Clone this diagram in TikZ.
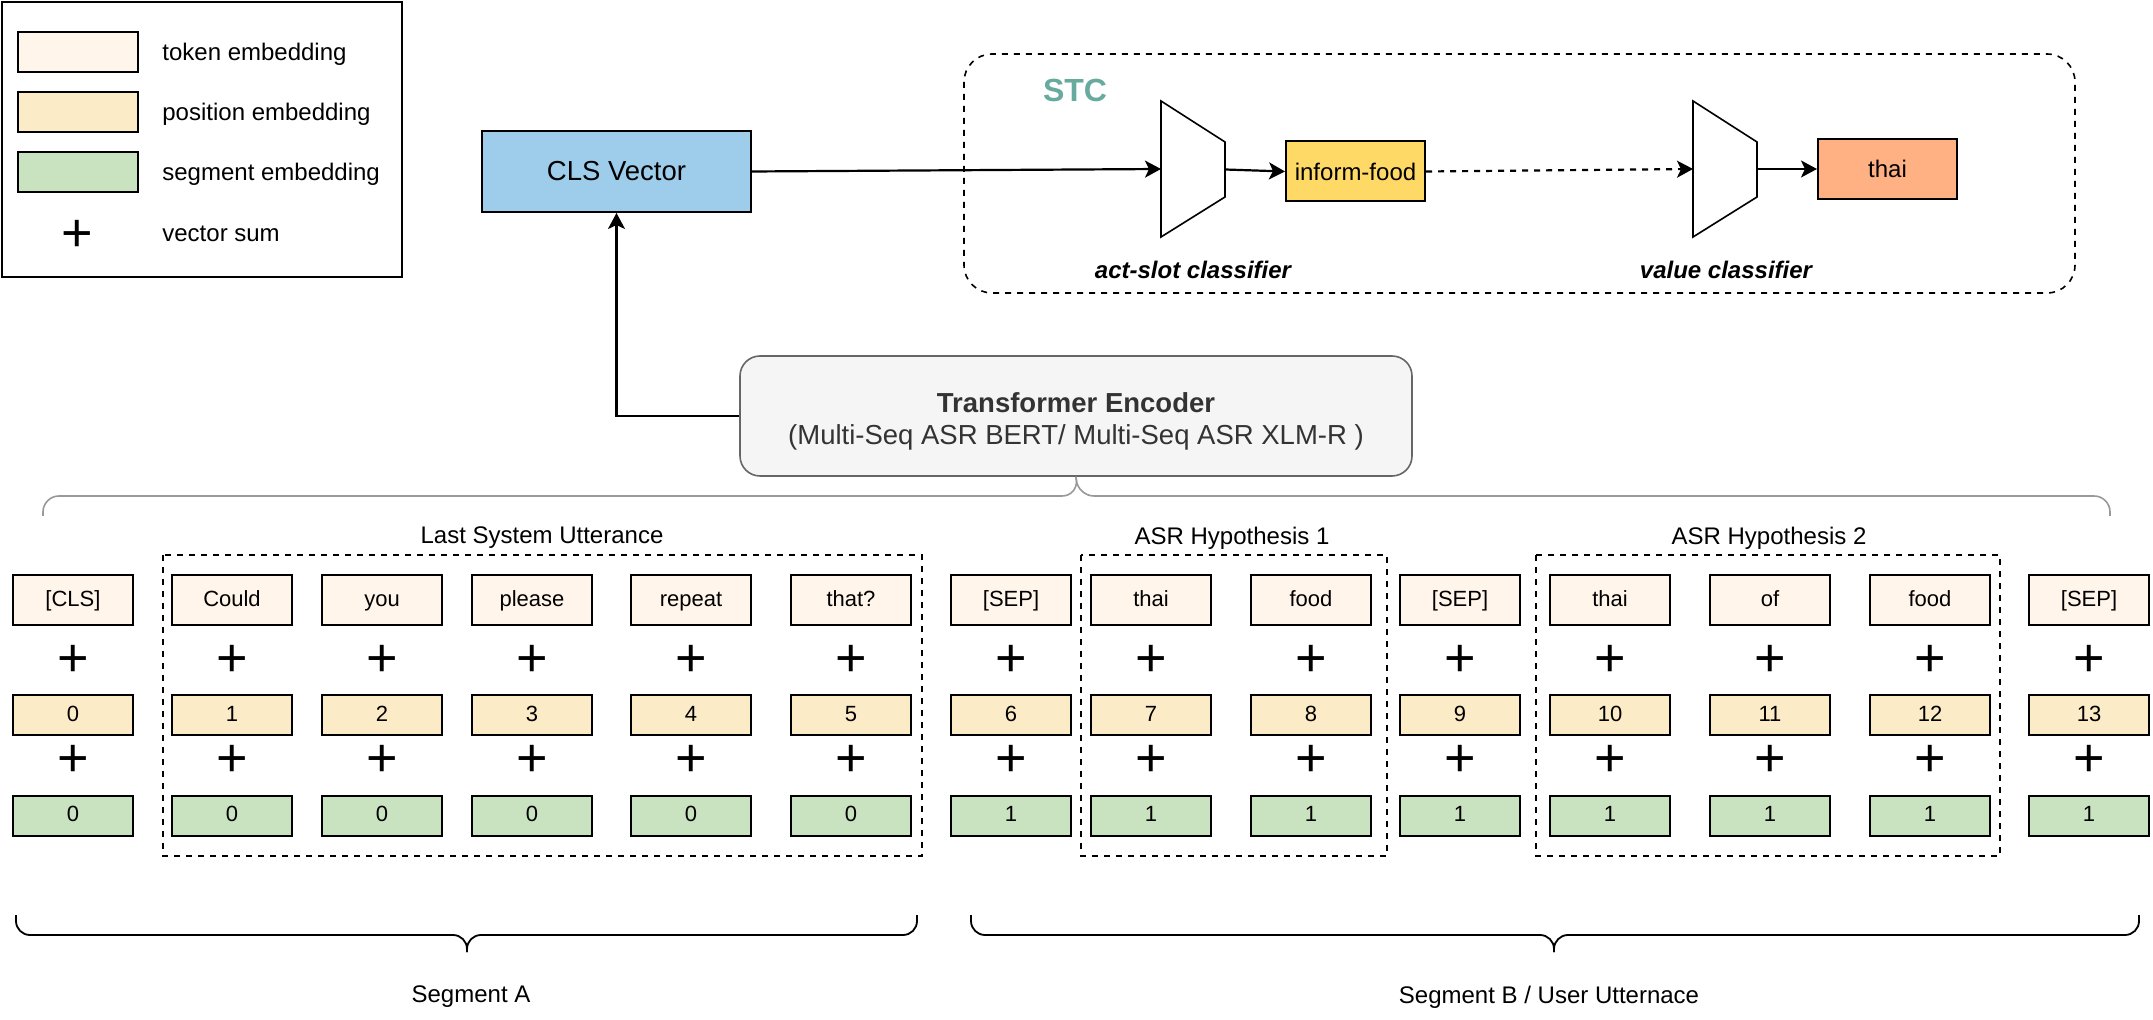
\documentclass[tikz,border=0pt]{standalone}
\usepackage{fontspec}
\setmainfont{Liberation Sans}
\usetikzlibrary{arrows.meta}
\definecolor{tokfill}{HTML}{FFF5EB}
\definecolor{posfill}{HTML}{FCEBC7}
\definecolor{segfill}{HTML}{C9E3C0}
\definecolor{clsfill}{HTML}{9DCDEA}
\definecolor{actfill}{HTML}{FFD966}
\definecolor{valfill}{HTML}{FFB183}
\definecolor{stcteal}{HTML}{67AB9F}
\definecolor{encfill}{HTML}{F5F5F5}
\definecolor{encline}{HTML}{666666}
\definecolor{encbrace}{HTML}{999999}

\begin{document}
\begin{tikzpicture}[x=0.5pt, y=-0.5pt, >={Stealth[length=8pt,width=8.5pt,inset=2pt]},
    font=\fontsize{12}{14}\selectfont,
    embbox/.style={draw, line width=1pt, minimum width=60pt, inner sep=0pt,
        text height=8pt, text depth=2.2pt, font=\fontsize{11}{13}\selectfont},
    tokbox/.style={embbox, fill=tokfill, minimum height=25pt},
    posbox/.style={embbox, fill=posfill, minimum height=20pt},
    segbox/.style={embbox, fill=segfill, minimum height=20pt},
    sumsign/.style={inner sep=0pt, font=\fontsize{27}{27}\selectfont},
    legtext/.style={anchor=west, inner sep=0pt},
    grpbox/.style={dashed, line width=0.7pt},
    conn/.style={->, line width=1.1pt},
    outbox/.style={draw, line width=1pt, minimum width=69.5pt, minimum height=30pt, inner sep=0pt},
    classifier/.style={draw, line width=0.8pt, fill=white}]
    \useasboundingbox (0,0) rectangle (2153,1020);

    % Legend
    \draw[line width=0.9pt] (2,2) rectangle (402,277);
    \node[tokbox, minimum height=20pt] (legtok) at (78,52) {};
    \node[posbox] (legpos) at (78,112) {};
    \node[segbox] (legseg) at (78,172) {};
    \node[sumsign] (legsum) at (77,236) {+};
    \node[legtext] (legtoktxt) at (162,54) {token embedding};
    \node[legtext] (legpostxt) at (162,114) {position embedding};
    \node[legtext] (legsegtxt) at (162,174) {segment embedding};
    \node[legtext] (legsumtxt) at (162,234) {vector sum};

    % CLS vector and encoder
    \node[draw, line width=1pt, fill=clsfill, minimum width=134.5pt, minimum height=40.5pt,
        font=\fontsize{13.75}{15}\selectfont] (cls) at (616.5,171.5) {CLS Vector};
    \node[draw=encline, line width=0.8pt, fill=encfill, rounded corners=10pt, minimum width=336pt,
        minimum height=60pt] (enc) at (1076,416) {};
    \node[align=center, text=black!80, font=\fontsize{13.75}{16}\selectfont] (enctxt) at (1076,421)
        {\textbf{Transformer Encoder}\\(Multi-Seq ASR BERT/ Multi-Seq ASR XLM-R )};
    \draw[conn] (enc.west) -| (cls.south);

    % STC
    \draw[dashed, line width=0.8pt, rounded corners=14pt] (964,54) rectangle (2075,293);
    \node[text=stcteal, font=\fontsize{16}{18}\selectfont\bfseries] (stc) at (1075,90) {STC};
    \draw[classifier] (1161,101) -- (1225,142) -- (1225,197) -- (1161,237) -- cycle;
    \draw[classifier] (1693,101) -- (1757,142) -- (1757,197) -- (1693,237) -- cycle;
    \coordinate (asin) at (1161,169);
    \coordinate (asout) at (1225,169.5);
    \coordinate (vcin) at (1693,169);
    \coordinate (vcout) at (1757,169);
    \node[outbox, fill=actfill] (actslot) at (1355.5,171.5) {inform-food};
    \node[outbox, fill=valfill] (value) at (1887.5,169) {thai};
    \node[font=\fontsize{12}{14}\selectfont\bfseries\itshape] (aslabel) at (1193,270) {act-slot classifier};
    \node[font=\fontsize{12}{14}\selectfont\bfseries\itshape] (vclabel) at (1726,270) {value classifier};
    \draw[conn] (cls.east) -- (asin);
    \draw[conn] (asout) -- (actslot.west);
    \draw[conn, dashed] (actslot.east) -- (vcin);
    \draw[conn] (vcout) -- (value.west);

    % Brace into the encoder
    \draw[encbrace, line width=0.8pt, rounded corners=8pt] (43,516) |- (1078,496) -- (enc.south);
    \draw[encbrace, line width=0.8pt, rounded corners=8pt] (2110,516) |- (1078,496) -- (enc.south);

    % Input embeddings
    \foreach \x/\tok/\pos/\seg [count=\i] in {73/{[CLS]}/0/0, 232/Could/1/0, 382/you/2/0,
        532/please/3/0, 691/repeat/4/0, 851/that?/5/0, 1011/{[SEP]}/6/1, 1151/thai/7/1,
        1311/food/8/1, 1460/{[SEP]}/9/1, 1610/thai/10/1, 1770/of/11/1, 1930/food/12/1,
        2089/{[SEP]}/13/1} {
        \node[tokbox] (tok\i) at (\x,600.5) {\tok};
        \node[sumsign] (suma\i) at (\x,661) {+};
        \node[posbox] (pos\i) at (\x,715.5) {\pos};
        \node[sumsign] (sumb\i) at (\x,761) {+};
        \node[segbox] (seg\i) at (\x,816) {\seg};
    }

    % Groups
    \draw[grpbox] (163,555) rectangle (922,856);
    \draw[grpbox] (1081,555) rectangle (1387,856);
    \draw[grpbox] (1536,555) rectangle (2000,856);
    \node (lastsys) at (542,538) {Last System Utterance};
    \node (hypone) at (1232,538) {ASR Hypothesis 1};
    \node (hyptwo) at (1769,538) {ASR Hypothesis 2};

    % Segments
    \draw[line width=0.9pt, rounded corners=7pt] (16,915) |- (467,935) -- (467,952);
    \draw[line width=0.9pt, rounded corners=7pt] (917,915) |- (467,935) -- (467,952);
    \draw[line width=0.9pt, rounded corners=7pt] (971,915) |- (1554,935) -- (1554,952);
    \draw[line width=0.9pt, rounded corners=7pt] (2139,915) |- (1554,935) -- (1554,952);
    \node (sega) at (471,997) {Segment A};
    \node (segb) at (1549,997) {Segment B / User Utternace};
\end{tikzpicture}
\end{document}
